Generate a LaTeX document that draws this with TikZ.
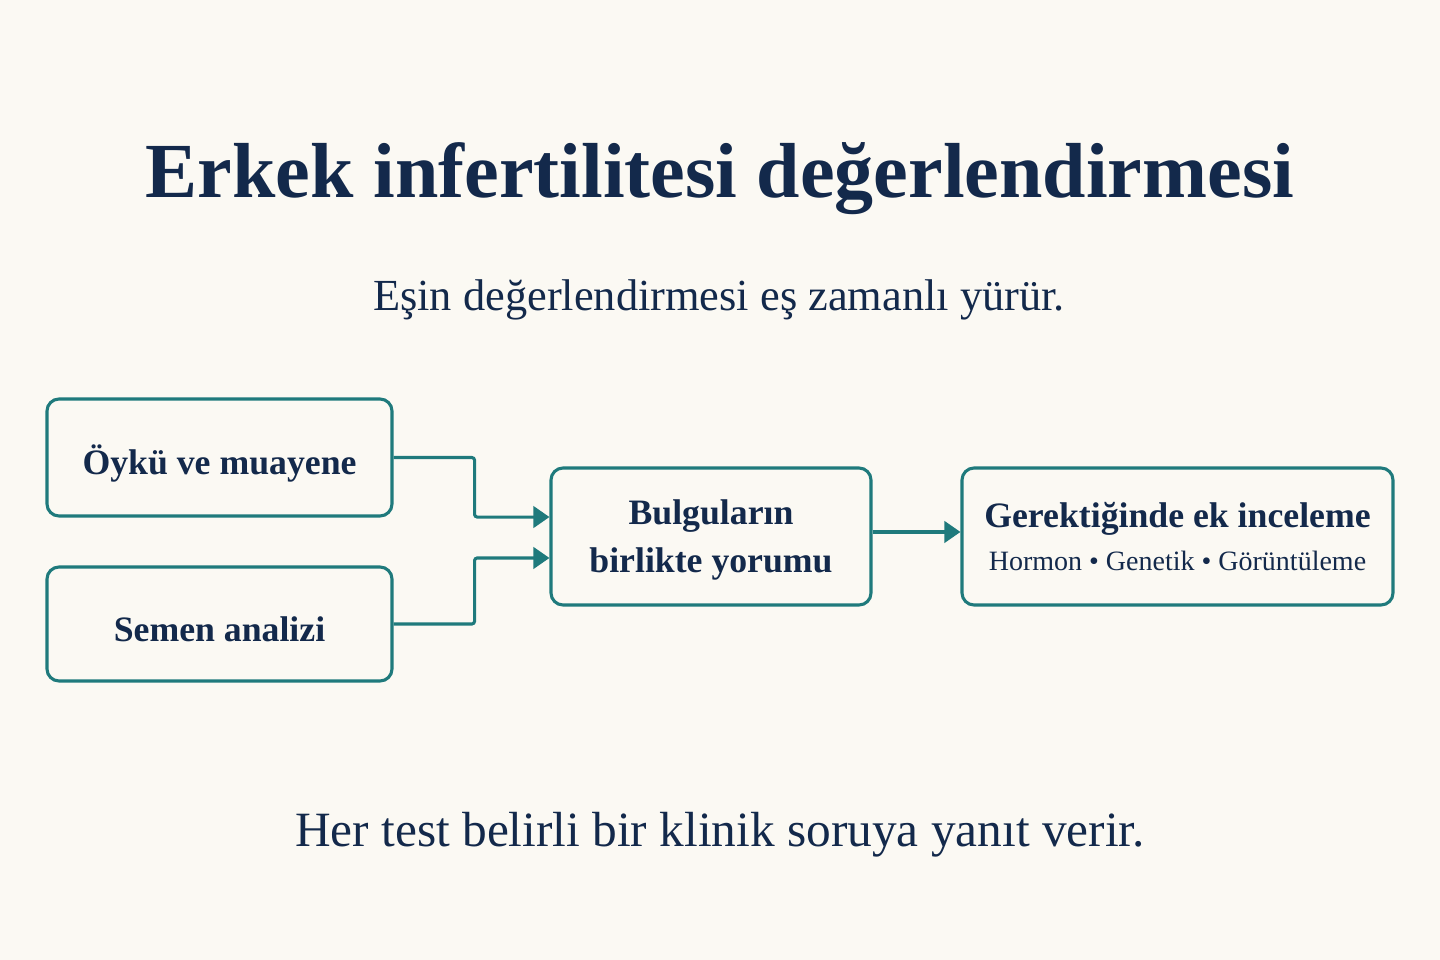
\documentclass[tikz,border=0pt]{standalone}
\usepackage{fontspec}
\setmainfont{Liberation Serif}
\usetikzlibrary{arrows.meta}
\definecolor{bgc}{HTML}{FBF9F3}
\definecolor{navy}{HTML}{13294B}
\definecolor{teal}{HTML}{1F7A7C}
\tikzset{
  box/.style={draw=teal, line width=2.3pt, rounded corners=9pt, fill=bgc, text=navy,
    align=center, inner sep=0pt, font=\fontsize{26.8}{34}\selectfont\bfseries},
  conn/.style={draw=teal, line width=2.3pt, rounded corners=2pt,
    -{Triangle[length=12pt,width=16pt]}},
  lbl/.style={text=navy, inner sep=0pt, anchor=base}
}
\begin{document}
\begin{tikzpicture}[x=0.75pt,y=-0.75pt]
\fill[bgc] (0,0) rectangle (1440,960);
\useasboundingbox (0,0) rectangle (1440,960);
\node[lbl, font=\fontsize{58.5}{64}\selectfont\bfseries] (title) at (720,197) {Erkek infertilitesi değerlendirmesi};
\node[lbl, font=\fontsize{33.3}{40}\selectfont] (sub) at (719,310) {Eşin değerlendirmesi eş zamanlı yürür.};
\node[lbl, font=\fontsize{37}{44}\selectfont] (foot) at (720,846) {Her test belirli bir klinik soruya yanıt verir.};
\node[box, minimum width=258.75pt, minimum height=87.75pt, text height=26.2pt, text depth=0pt] (b1) at (219.5,457.5) {Öykü ve muayene};
\node[box, minimum width=258.75pt, minimum height=85.5pt, text height=26.5pt, text depth=0pt] (b2) at (219.5,624) {Semen analizi};
\node[box, minimum width=240pt, minimum height=102.75pt] (b3) at (711,536.5) {\rule{0pt}{24.5pt}Bulguların\\[2pt]birlikte yorumu};
\node[box, minimum width=323.25pt, minimum height=102.75pt] (b4) at (1177.5,536.5) {Gerektiğinde ek inceleme\\[-2pt]{\fontsize{21}{26}\selectfont\mdseries Hormon • Genetik • Görüntüleme}};
\draw[conn] (b1.east) -- ++(81,0) |- ([yshift=14.6pt]b3.west);
\draw[conn] (b2.east) -- ++(81,0) |- ([yshift=-16.1pt]b3.west);
\draw[conn] ([yshift=3.4pt]b3.east) -- ([yshift=3.4pt]b4.west);
\end{tikzpicture}
\end{document}
